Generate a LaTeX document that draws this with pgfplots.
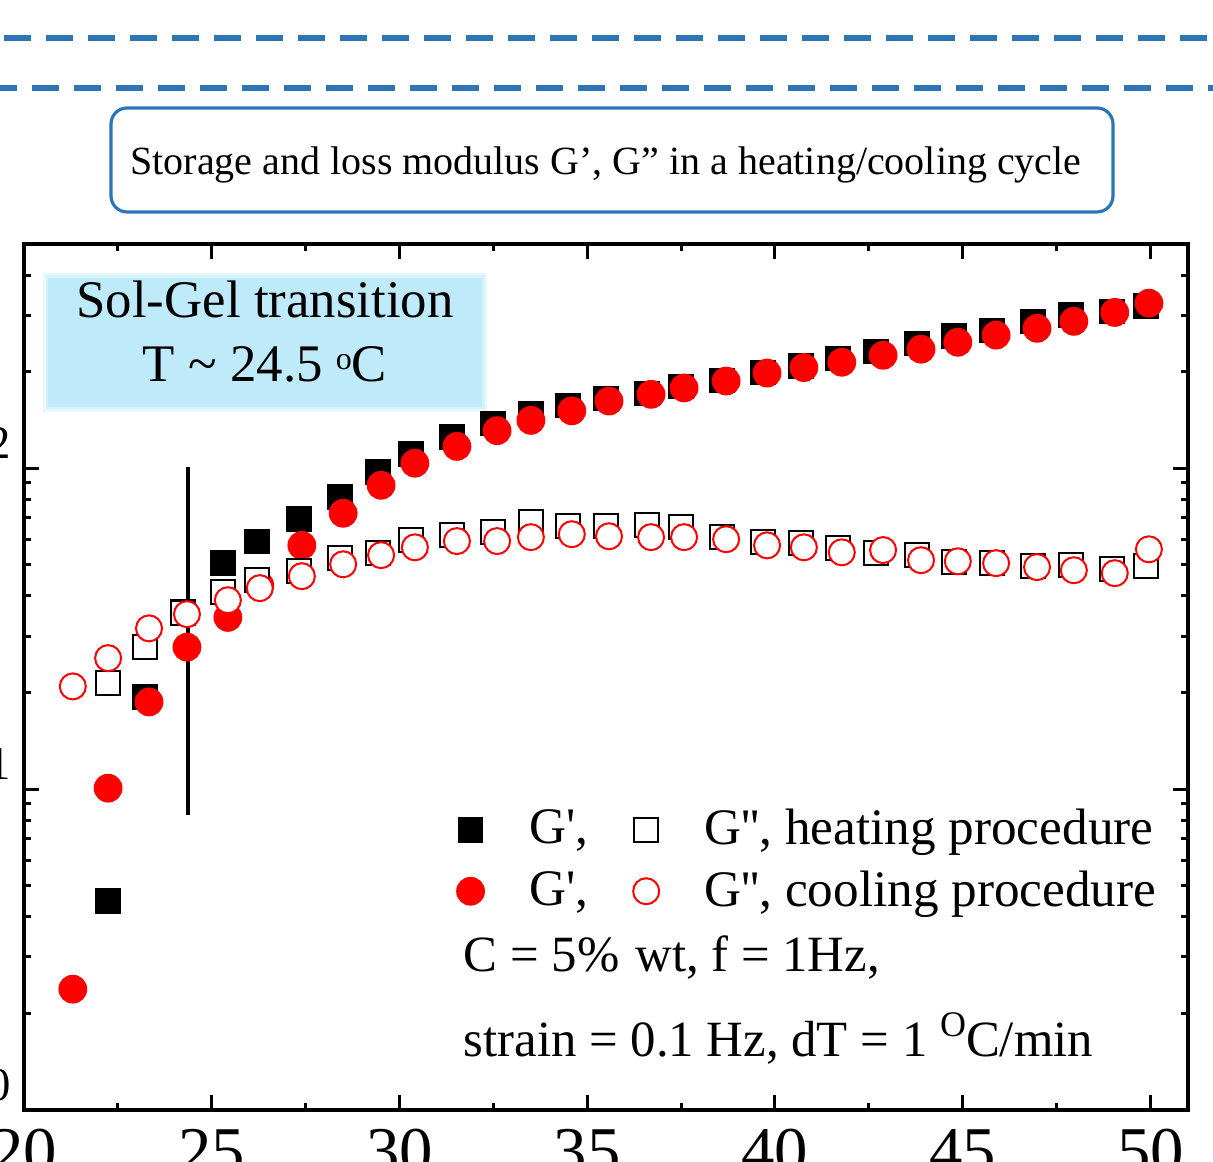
\documentclass[border=0pt]{standalone}
\usepackage{pgfplots}
\pgfplotsset{compat=1.18}
\usepackage{fontspec}
\setmainfont{Liberation Serif}
\definecolor{dblue}{HTML}{2E75B6}
\definecolor{lblue}{HTML}{BFEAFA}

\pgfplotstableread{
x     Gp     Gpp
22.24 4.48   21.4
23.22 19.4   27.7
24.23 35.6   35.3
25.30 50.6   41.1
26.21 59.2   44.8
27.32 69.4   47.8
28.42 81.2   52.4
29.43 97.2   54.3
30.31 111    59.7
31.40 125    61.8
32.49 138    63.2
33.50 148    67.9
34.49 157    65.9
35.50 165    65.9
36.59 171    66.4
37.50 180    65.5
38.59 188    61.0
39.68 199    58.8
40.69 208    58.4
41.68 220    56.3
42.69 231    54.3
43.78 245    53.6
44.77 258    50.9
45.78 269    50.6
46.87 287    49.5
47.88 300    49.9
48.97 308    48.5
49.88 320    49.5
}\heating

\pgfplotstableread{
x     Gp     Gpp
21.30 2.38   20.9
22.24 10.07  25.6
23.33 18.7   31.7
24.34 27.7   35.1
25.43 34.3   38.8
26.28 43.2   42.3
27.40 57.5   46.1
28.50 72.4   50.2
29.51 88.5   53.6
30.41 103.7  56.7
31.53 117    59.3
32.60 131    59.3
33.50 141    61.0
34.59 151    62.3
35.58 162    61.4
36.70 170    61.0
37.58 178    61.0
38.70 187    60.1
39.79 198    57.5
40.77 206    56.7
41.78 214    54.7
42.88 225    55.6
43.89 235    51.7
44.87 247    51.3
45.89 260    50.6
46.98 273    49.2
47.96 287    48.1
49.05 306    47.1
49.96 327    55.9
}\cooling

\begin{document}
\begin{tikzpicture}
\begin{scope}
\clip (0pt,0pt) rectangle (303.25pt,-290.5pt);
\begin{scope}[x=0.25pt,y=-0.25pt]
\draw[dblue, line width=1.5pt, dash pattern=on 6.75pt off 3.75pt, dash phase=9.5pt] (0,38) -- (1213,38);
\draw[dblue, line width=1.5pt, dash pattern=on 6.75pt off 3.75pt, dash phase=2.5pt] (0,88) -- (1213,88);
\draw[dblue, line width=0.8pt, rounded corners=4pt] (111,108) rectangle (1113,212);
\node[font=\fontsize{10}{12}\selectfont, anchor=base, inner sep=0pt] at (606,175) {Storage and loss modulus G’, G” in a heating/cooling cycle};
\fill[lblue!35] (43,273) rectangle (487,412);
\fill[lblue!65] (45.5,275.5) rectangle (484.5,409.5);
\fill[lblue] (48,278) rectangle (482,407);
\node[font=\fontsize{13.2}{15}\selectfont, anchor=base, inner sep=0pt] at (265,318) {Sol-Gel transition};
\node[font=\fontsize{13.2}{15}\selectfont, anchor=base, inner sep=0pt] at (265,382) {T \textasciitilde\ 24.5 \raisebox{3.2pt}{\fontsize{8}{8}\selectfont o}C};
\node[font=\fontsize{12.7}{15}\selectfont, anchor=base west, inner sep=0pt] at (463,972) {C = 5\%\hspace{4pt}wt, f = 1Hz,};
\node[font=\fontsize{12.7}{15}\selectfont, anchor=base west, inner sep=0pt] at (463,1057) {strain = 0.1 Hz, dT = 1 \raisebox{5pt}{\fontsize{9}{9}\selectfont O}C/min};
\end{scope}

\begin{axis}[
  at={(6pt,-277.5pt)}, anchor=south west,
  scale only axis, width=291pt, height=216.5pt,
  xmin=20, xmax=51, ymin=1, ymax=500, ymode=log,
  xtick={20,25,...,50}, minor x tick num=1,
  ytick={1,10,100},
  yticklabels={10\textsuperscript{0},10\textsuperscript{1},10\textsuperscript{2}},
  minor ytick={2,3,4,5,6,7,8,9,20,30,40,50,60,70,80,90,200,300,400},
  tick align=inside,
  major tick length=3.75pt, minor tick length=1.75pt,
  every tick/.append style={line width=0.75pt, black},
  axis line style={line width=1pt},
  /pgf/number format/assume math mode=true,
  tick label style={font=\fontsize{16.7}{19}\selectfont},
  yticklabel style={xshift=0.8pt, yshift=3pt},
  xticklabel style={yshift=-1.25pt},
  legend columns=2, transpose legend,
  legend cell align=left,
  legend style={draw=none, fill=none, font=\fontsize{12.8}{15}\selectfont,
    at={(0.361,0.367)}, anchor=north west,
    /tikz/every odd column/.append style={column sep=9.25pt},
    /tikz/every even column/.append style={column sep=9.25pt},
    row sep=1pt},
]
\addplot[only marks, mark=square*, mark size=3pt, black] table[x=x,y=Gp] {\heating};
\addlegendentry{G\textquotesingle,}
\addplot[only marks, mark=*, mark size=3.4pt, red] table[x=x,y=Gp] {\cooling};
\addlegendentry{G\textquotesingle,}
\addplot[only marks, mark=square*, mark size=3pt, draw=black, fill=white, line width=0.5pt] table[x=x,y=Gpp] {\heating};
\addlegendentry{G\textquotesingle\textquotesingle, heating procedure}
\addplot[only marks, mark=*, mark size=3.25pt, draw=red, fill=white, line width=0.5pt] table[x=x,y=Gpp] {\cooling};
\addlegendentry{G\textquotesingle\textquotesingle, cooling procedure}
\addplot[black, line width=0.85pt, no marks, forget plot] coordinates {(24.37,100.7) (24.37,8.3)};
\end{axis}
\end{scope}
\pgfresetboundingbox
\useasboundingbox (0pt,0pt) rectangle (303.25pt,-290.5pt);
\end{tikzpicture}
\end{document}
